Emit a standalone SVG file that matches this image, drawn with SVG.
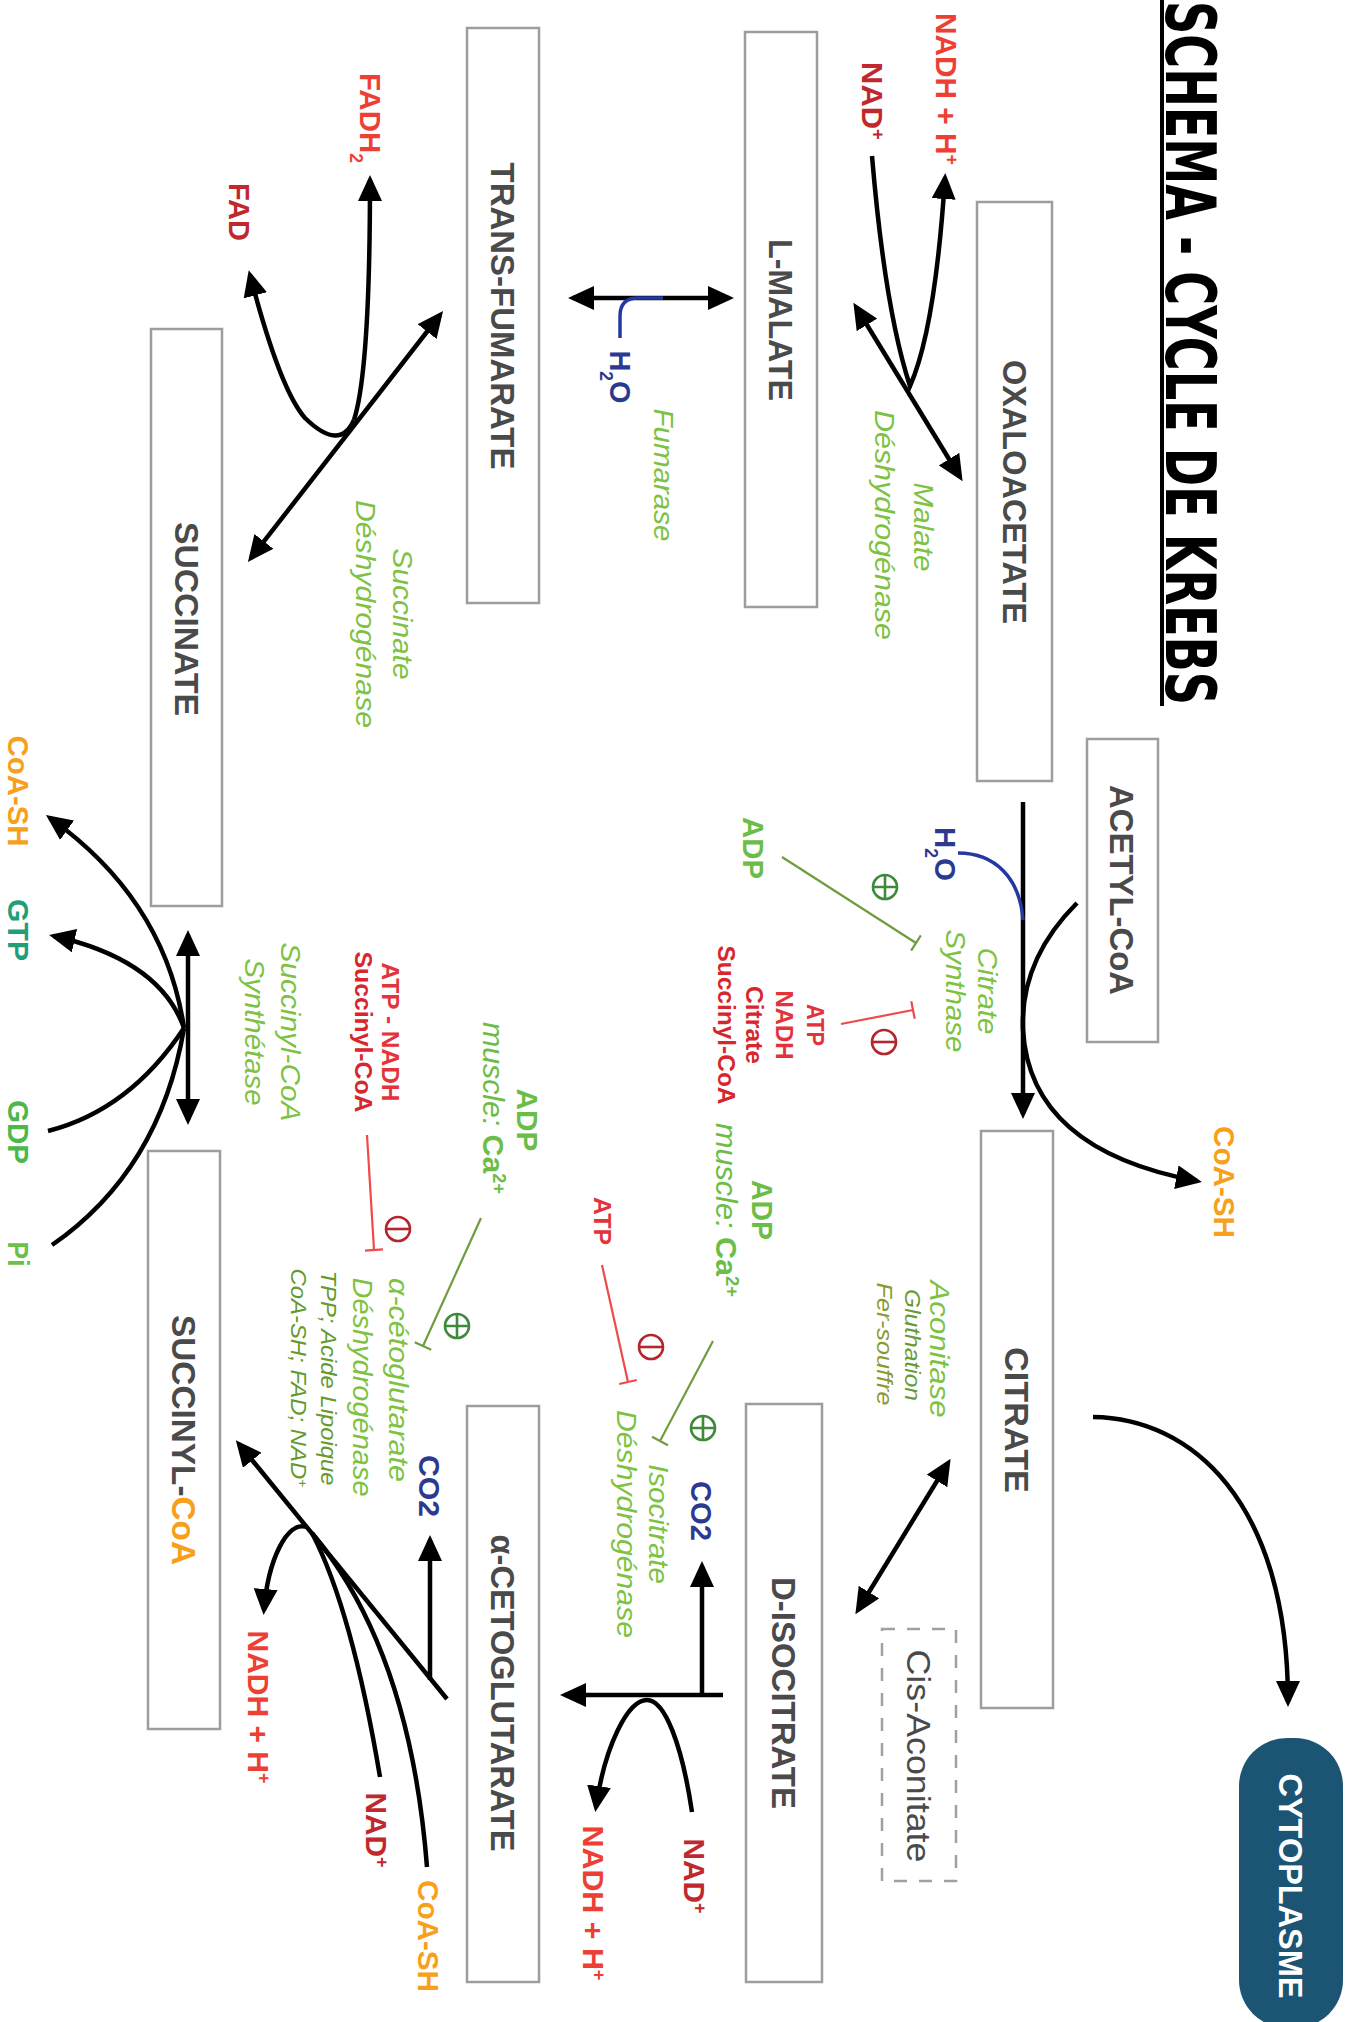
<svg xmlns="http://www.w3.org/2000/svg" width="1359" height="2022" viewBox="0 0 1359 2022">
<defs>
<style>
.box{fill:#fff;stroke:#9d9d9d;stroke-width:2.5}
.dash{fill:#fff;stroke:#a0a0a0;stroke-width:2.5;stroke-dasharray:13 12}
.bt{font-family:"Liberation Sans",Arial,sans-serif;font-weight:bold;font-size:34px;fill:#4a4a4a;text-anchor:middle}
.lb{font-family:"Liberation Sans",Arial,sans-serif;font-weight:bold;font-size:30px;text-anchor:middle}
.en{font-family:"Liberation Sans",Arial,sans-serif;font-style:italic;font-size:28px;fill:#7dc242;text-anchor:middle}
.co{font-family:"Liberation Sans",Arial,sans-serif;font-style:italic;font-size:22px;fill:#649a2e;text-anchor:middle}
.sm{font-family:"Liberation Sans",Arial,sans-serif;font-weight:bold;font-size:24px;fill:#e2343a;text-anchor:middle}
.ln{fill:none;stroke:#000;stroke-width:4.5}
.h2o{fill:none;stroke:#2338a0;stroke-width:3.5}
.act{fill:none;stroke:#6f9d3e;stroke-width:2.2}
.inh{fill:none;stroke:#ef4a4a;stroke-width:2.2}
.pc{fill:none;stroke:#3f8a3a;stroke-width:2.6}
.mc{fill:none;stroke:#b3262c;stroke-width:2.6}
.red{fill:#ee3f34}.dred{fill:#c0282d}.org{fill:#f7a01c}.blu{fill:#2b3990}.grn{fill:#6cbd47}
</style>
<marker id="ah" viewBox="0 0 26 24" refX="21" refY="12" markerWidth="26" markerHeight="24" markerUnits="userSpaceOnUse" orient="auto-start-reverse"><path d="M0,0 L26,12 L0,24 z" fill="#000"/></marker>
<marker id="tg" viewBox="-2 -10 4 20" refX="0" refY="0" markerWidth="4" markerHeight="20" markerUnits="userSpaceOnUse" orient="auto"><path d="M0,-9 V9" stroke="#6f9d3e" stroke-width="2.2"/></marker>
<marker id="tr" viewBox="-2 -10 4 20" refX="0" refY="0" markerWidth="4" markerHeight="20" markerUnits="userSpaceOnUse" orient="auto"><path d="M0,-9 V9" stroke="#ef4a4a" stroke-width="2.2"/></marker>
</defs>
<rect width="1359" height="2022" fill="#fff"/>

<g id="title">
<line x1="1162" y1="0" x2="1162" y2="706" stroke="#000" stroke-width="4"/>
<text transform="translate(1166 1) rotate(90)" font-family="'DejaVu Sans Condensed','DejaVu Sans',sans-serif" font-weight="bold" font-size="70" textLength="704" lengthAdjust="spacingAndGlyphs">SCHEMA - CYCLE DE KREBS</text>
</g>

<g id="oxaloacetate"><rect class="box" x="977" y="202" width="75" height="579"/><text class="bt" transform="translate(1003 492) rotate(90)" textLength="264" lengthAdjust="spacingAndGlyphs">OXALOACETATE</text></g>
<g id="l-malate"><rect class="box" x="745" y="32" width="72" height="575"/><text class="bt" transform="translate(769 320) rotate(90)" textLength="162" lengthAdjust="spacingAndGlyphs">L-MALATE</text></g>
<g id="trans-fumarate"><rect class="box" x="467" y="28" width="72" height="575"/><text class="bt" transform="translate(491 316) rotate(90)" textLength="307" lengthAdjust="spacingAndGlyphs">TRANS-FUMARATE</text></g>
<g id="succinate"><rect class="box" x="151" y="329" width="71" height="577"/><text class="bt" transform="translate(175 619) rotate(90)" textLength="194" lengthAdjust="spacingAndGlyphs">SUCCINATE</text></g>
<g id="acetyl-coa"><rect class="box" x="1087" y="739" width="71" height="303"/><text class="bt" transform="translate(1110 890) rotate(90)" textLength="210" lengthAdjust="spacingAndGlyphs">ACETYL-CoA</text></g>
<g id="citrate"><rect class="box" x="981" y="1131" width="72" height="577"/><text class="bt" transform="translate(1005 1420) rotate(90)" textLength="146" lengthAdjust="spacingAndGlyphs">CITRATE</text></g>
<g id="d-isocitrate"><rect class="box" x="746" y="1404" width="76" height="578"/><text class="bt" transform="translate(772 1693) rotate(90)" textLength="232" lengthAdjust="spacingAndGlyphs">D-ISOCITRATE</text></g>
<g id="cis-aconitate"><rect class="dash" x="882" y="1629" width="74" height="252"/><text class="bt" style="font-weight:normal" font-size="33" transform="translate(907 1756) rotate(90)" textLength="213" lengthAdjust="spacingAndGlyphs">Cis-Aconitate</text></g>
<g id="a-cetoglutarate"><rect class="box" x="467" y="1406" width="72" height="576"/><text class="bt" transform="translate(491 1693) rotate(90)" textLength="317" lengthAdjust="spacingAndGlyphs">α-CETOGLUTARATE</text></g>
<g id="succinyl-coa"><rect class="box" x="148" y="1151" width="72" height="578"/><text class="bt" transform="translate(172 1440) rotate(90)" textLength="250" lengthAdjust="spacingAndGlyphs">SUCCINYL-<tspan fill="#f7a01c">CoA</tspan></text></g>
<g id="cytoplasme"><rect x="1239" y="1738" width="104" height="290" rx="48" fill="#1c5574"/><text class="bt" style="fill:#fff" font-size="36" transform="translate(1279 1886) rotate(90)" textLength="225" lengthAdjust="spacingAndGlyphs">CYTOPLASME</text></g>

<g id="connectors">
<path class="ln" d="M856 307 L960 477" marker-start="url(#ah)" marker-end="url(#ah)"/>
<path class="ln" d="M872 156 Q885 310 910 386 Q935 330 945 178" marker-end="url(#ah)"/>
<path class="ln" d="M573 298 L729 298" marker-start="url(#ah)" marker-end="url(#ah)"/>
<path class="h2o" d="M663 298 L638 298 Q620 298 620 316 L620 338"/>
<path class="ln" d="M251 558 L440 315" marker-start="url(#ah)" marker-end="url(#ah)"/>
<path class="ln" d="M354 420 Q370 370 370 180" marker-end="url(#ah)"/>
<path class="ln" d="M354 420 Q340 452 305 418 Q280 390 250 275" marker-end="url(#ah)"/>
<path class="ln" d="M1023 802 L1023 1114" marker-end="url(#ah)"/>
<path class="h2o" d="M958 853 C995 853 1020 878 1023 920"/>
<path class="ln" d="M1077 903 Q1020 960 1023 1030 Q1030 1150 1197 1181" marker-end="url(#ah)"/>
<path class="ln" d="M1093 1417 C1190 1418 1288 1500 1288 1702" marker-end="url(#ah)"/>
<path class="ln" d="M948 1463 L858 1610" marker-start="url(#ah)" marker-end="url(#ah)"/>
<path class="ln" d="M723 1695 L565 1695" marker-end="url(#ah)"/>
<path class="ln" d="M702 1695 L702 1566" marker-end="url(#ah)"/>
<path class="ln" d="M692 1812 C682 1745 665 1700 647 1700 C628 1700 605 1745 596 1807" marker-end="url(#ah)"/>
<path class="ln" d="M447 1699 L239 1444" marker-end="url(#ah)"/>
<path class="ln" d="M430 1680 L430 1540" marker-end="url(#ah)"/>
<path class="ln" d="M380 1777 Q352 1610 312 1533"/>
<path class="ln" d="M427 1867 Q410 1650 312 1533"/>
<path class="ln" d="M307 1527 C287 1520 268 1560 264 1610" marker-end="url(#ah)"/>
<path class="ln" d="M188 935 L188 1120" marker-start="url(#ah)" marker-end="url(#ah)"/>
<path class="ln" d="M184 1028 Q165 900 50 818" marker-end="url(#ah)"/>
<path class="ln" d="M184 1028 Q160 960 54 936" marker-end="url(#ah)"/>
<path class="ln" d="M48 1131 Q130 1110 184 1028"/>
<path class="ln" d="M52 1245 Q160 1170 184 1028"/>
<path class="act" d="M782 857 L916 943" marker-end="url(#tg)"/>
<path class="inh" d="M841 1024 L913 1010" marker-end="url(#tr)"/>
<path class="act" d="M713 1341 L660 1441" marker-end="url(#tg)"/>
<path class="inh" d="M602 1265 L628 1382" marker-end="url(#tr)"/>
<path class="act" d="M481 1218 L423 1346" marker-end="url(#tg)"/>
<path class="inh" d="M367 1135 L374 1250" marker-end="url(#tr)"/>
</g>

<g id="regulators">
<g transform="translate(885 887)"><circle class="pc" r="12"/><path class="pc" d="M-12 0H12M0 -12V12"/></g>
<g transform="translate(884 1042)"><circle class="mc" r="12"/><path class="mc" d="M-12 0H12"/></g>
<g transform="translate(703 1428)"><circle class="pc" r="12"/><path class="pc" d="M-12 0H12M0 -12V12"/></g>
<g transform="translate(651 1347)"><circle class="mc" r="12"/><path class="mc" d="M-12 0H12"/></g>
<g transform="translate(457 1326)"><circle class="pc" r="12"/><path class="pc" d="M-12 0H12M0 -12V12"/></g>
<g transform="translate(398 1229)"><circle class="mc" r="12"/><path class="mc" d="M-12 0H12"/></g>
</g>

<g id="labels">
<text class="lb red" transform="translate(936 89) rotate(90)" textLength="152" lengthAdjust="spacingAndGlyphs">NADH + H<tspan baseline-shift="super" font-size="60%">+</tspan></text>
<text class="lb dred" transform="translate(862 101) rotate(90)" textLength="78" lengthAdjust="spacingAndGlyphs">NAD<tspan baseline-shift="super" font-size="60%">+</tspan></text>
<text class="en" transform="translate(914 527) rotate(90)" textLength="89" lengthAdjust="spacingAndGlyphs">Malate</text>
<text class="en" transform="translate(875 525) rotate(90)" textLength="230" lengthAdjust="spacingAndGlyphs">Déshydrogénase</text>
<text class="lb blu" transform="translate(610 377) rotate(90)" textLength="53" lengthAdjust="spacingAndGlyphs">H<tspan baseline-shift="sub" font-size="60%">2</tspan>O</text>
<text class="en" transform="translate(654 475) rotate(90)" textLength="133" lengthAdjust="spacingAndGlyphs">Fumarase</text>
<text class="lb red" transform="translate(360 118) rotate(90)" textLength="90" lengthAdjust="spacingAndGlyphs">FADH<tspan baseline-shift="sub" font-size="60%">2</tspan></text>
<text class="lb dred" transform="translate(229 212) rotate(90)" textLength="58" lengthAdjust="spacingAndGlyphs">FAD</text>
<text class="en" transform="translate(393 614) rotate(90)" textLength="131" lengthAdjust="spacingAndGlyphs">Succinate</text>
<text class="en" transform="translate(356 614) rotate(90)" textLength="228" lengthAdjust="spacingAndGlyphs">Déshydrogénase</text>

<text class="lb blu" transform="translate(935 854) rotate(90)" textLength="54" lengthAdjust="spacingAndGlyphs">H<tspan baseline-shift="sub" font-size="60%">2</tspan>O</text>
<text class="lb org" font-size="33" transform="translate(1214 1182) rotate(90)" textLength="112" lengthAdjust="spacingAndGlyphs">CoA-SH</text>
<text class="lb grn" transform="translate(743 848) rotate(90)" textLength="62" lengthAdjust="spacingAndGlyphs">ADP</text>
<text class="en" transform="translate(978 991) rotate(90)" textLength="87" lengthAdjust="spacingAndGlyphs">Citrate</text>
<text class="en" transform="translate(946 991) rotate(90)" textLength="123" lengthAdjust="spacingAndGlyphs">Synthase</text>
<text class="sm" transform="translate(807 1025) rotate(90)" textLength="42" lengthAdjust="spacingAndGlyphs">ATP</text>
<text class="sm" transform="translate(776 1025) rotate(90)" textLength="69" lengthAdjust="spacingAndGlyphs">NADH</text>
<text class="sm" style="fill:#d8262f" transform="translate(746 1025) rotate(90)" textLength="78" lengthAdjust="spacingAndGlyphs">Citrate</text>
<text class="sm" style="fill:#d8262f" transform="translate(718 1025) rotate(90)" textLength="159" lengthAdjust="spacingAndGlyphs">Succinyl-CoA</text>

<text class="lb grn" transform="translate(752 1210) rotate(90)" textLength="60" lengthAdjust="spacingAndGlyphs">ADP</text>
<text class="lb grn" transform="translate(716 1210) rotate(90)" textLength="174" lengthAdjust="spacingAndGlyphs"><tspan font-style="italic" font-weight="normal">muscle: </tspan>Ca<tspan baseline-shift="super" font-size="60%">2+</tspan></text>
<text class="en" font-size="26" transform="translate(930 1349) rotate(90)" textLength="137" lengthAdjust="spacingAndGlyphs">Aconitase</text>
<text class="co" font-size="21" style="fill:#6a9a35" transform="translate(905 1345) rotate(90)" textLength="112" lengthAdjust="spacingAndGlyphs">Gluthation</text>
<text class="co" font-size="21" style="fill:#8a9a30" transform="translate(877 1344) rotate(90)" textLength="123" lengthAdjust="spacingAndGlyphs">Fer-souffre</text>

<text class="sm" font-size="25" transform="translate(594 1221) rotate(90)" textLength="48" lengthAdjust="spacingAndGlyphs">ATP</text>
<text class="lb blu" font-size="32" transform="translate(691 1511) rotate(90)" textLength="60" lengthAdjust="spacingAndGlyphs">CO2</text>
<text class="en" transform="translate(649 1524) rotate(90)" textLength="120" lengthAdjust="spacingAndGlyphs">Isocitrate</text>
<text class="en" transform="translate(617 1524) rotate(90)" textLength="228" lengthAdjust="spacingAndGlyphs">Déshydrogénase</text>
<text class="lb dred" transform="translate(684 1876) rotate(90)" textLength="75" lengthAdjust="spacingAndGlyphs">NAD<tspan baseline-shift="super" font-size="60%">+</tspan></text>
<text class="lb red" transform="translate(583 1903) rotate(90)" textLength="155" lengthAdjust="spacingAndGlyphs">NADH + H<tspan baseline-shift="super" font-size="60%">+</tspan></text>

<text class="lb grn" transform="translate(517 1120) rotate(90)" textLength="63" lengthAdjust="spacingAndGlyphs">ADP</text>
<text class="lb grn" transform="translate(483 1108) rotate(90)" textLength="172" lengthAdjust="spacingAndGlyphs"><tspan font-style="italic" font-weight="normal">muscle: </tspan>Ca<tspan baseline-shift="super" font-size="60%">2+</tspan></text>
<text class="sm" transform="translate(382 1032) rotate(90)" textLength="139" lengthAdjust="spacingAndGlyphs">ATP - NADH</text>
<text class="sm" style="fill:#d8262f" transform="translate(355 1032) rotate(90)" textLength="161" lengthAdjust="spacingAndGlyphs">Succinyl-CoA</text>
<text class="en" font-size="26" transform="translate(389 1380) rotate(90)" textLength="204" lengthAdjust="spacingAndGlyphs">α-cétoglutarate</text>
<text class="en" font-size="26" transform="translate(353 1387) rotate(90)" textLength="219" lengthAdjust="spacingAndGlyphs">Déshydrogénase</text>
<text class="co" transform="translate(321 1378) rotate(90)" textLength="215" lengthAdjust="spacingAndGlyphs">TPP; Acide Lipoique</text>
<text class="co" transform="translate(291 1378) rotate(90)" textLength="219" lengthAdjust="spacingAndGlyphs">CoA-SH; FAD; NAD<tspan baseline-shift="super" font-size="60%">+</tspan></text>
<text class="lb blu" font-size="33" transform="translate(419 1486) rotate(90)" textLength="62" lengthAdjust="spacingAndGlyphs">CO2</text>
<text class="lb red" transform="translate(248 1707) rotate(90)" textLength="153" lengthAdjust="spacingAndGlyphs">NADH + H<tspan baseline-shift="super" font-size="60%">+</tspan></text>
<text class="lb dred" transform="translate(366 1830) rotate(90)" textLength="75" lengthAdjust="spacingAndGlyphs">NAD<tspan baseline-shift="super" font-size="60%">+</tspan></text>
<text class="lb org" font-size="33" transform="translate(418 1936) rotate(90)" textLength="112" lengthAdjust="spacingAndGlyphs">CoA-SH</text>

<text class="en" font-size="29" transform="translate(281 1032) rotate(90)" textLength="179" lengthAdjust="spacingAndGlyphs">Succinyl-CoA</text>
<text class="en" font-size="29" transform="translate(245 1032) rotate(90)" textLength="147" lengthAdjust="spacingAndGlyphs">Synthétase</text>
<text class="lb org" transform="translate(8 791) rotate(90)" textLength="111" lengthAdjust="spacingAndGlyphs">CoA-SH</text>
<text class="lb" style="fill:#1f9e78" transform="translate(8 930) rotate(90)" textLength="62" lengthAdjust="spacingAndGlyphs">GTP</text>
<text class="lb" style="fill:#4cb74a" transform="translate(8 1132) rotate(90)" textLength="64" lengthAdjust="spacingAndGlyphs">GDP</text>
<text class="lb" style="fill:#6cc04a" transform="translate(8 1254) rotate(90)" textLength="25" lengthAdjust="spacingAndGlyphs">Pi</text>
</g>
</svg>
